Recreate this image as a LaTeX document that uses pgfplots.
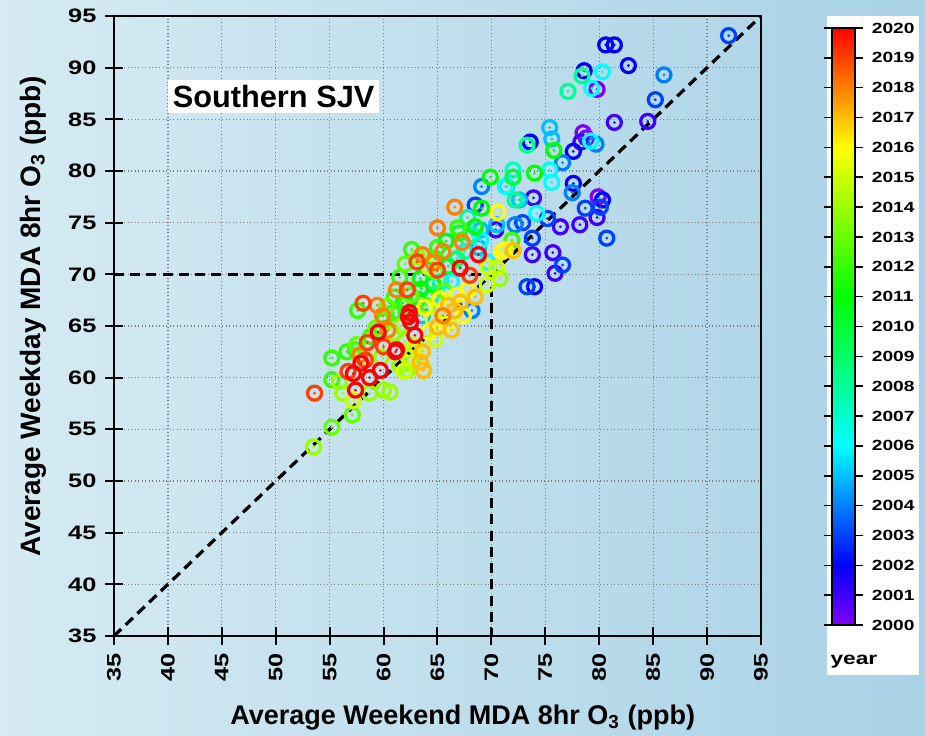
\documentclass[border=0pt]{standalone}
\usepackage{fontspec}
\setmainfont{Liberation Sans}
\newfontfamily\tickfont{Liberation Sans}[FakeStretch=1.3]
\usepackage{pgfplots}
\usepackage{pgfplotstable}
\pgfplotsset{compat=1.18}

% ring with a small dot in the middle
\pgfdeclareplotmark{ringdot}{%
  \pgfpathcircle{\pgfpointorigin}{\pgfplotmarksize}%
  \pgfusepathqstroke
  \pgfpathcircle{\pgfpointorigin}{0.6pt}%
  \pgfusepathqfill
}

\pgfplotstableread{
x y year
79.8 87.9 2000
78.5 83.7 2000
78.8 83.2 2000
79.9 77.5 2000
81.4 84.7 2001
84.5 84.8 2001
78.3 82.8 2001
73.9 77.4 2001
76.4 74.6 2001
78.2 74.8 2001
79.8 75.5 2001
75.7 72.1 2001
73.8 71.9 2001
75.9 70.1 2001
70.4 74.3 2001
80.6 92.2 2002
81.4 92.2 2002
82.7 90.2 2002
78.6 89.7 2002
73.6 82.8 2002
77.6 81.9 2002
80.3 77.2 2002
77.6 78.8 2002
74.0 68.8 2002
92.0 93.1 2003
85.2 86.9 2003
75.2 75.4 2003
72.9 75.0 2003
80.1 76.5 2003
78.7 76.4 2003
80.7 73.5 2003
76.6 70.9 2003
73.3 68.8 2003
73.8 73.5 2003
68.5 76.7 2003
86.0 89.3 2004
79.7 82.6 2004
76.6 80.8 2004
72.2 74.8 2004
77.5 77.9 2004
69.1 78.5 2004
68.2 66.5 2004
62.8 66.6 2004
75.4 84.2 2005
75.6 83.1 2005
71.4 78.5 2005
72.6 77.2 2005
69.0 74.3 2005
68.8 72.6 2005
70.5 74.8 2005
63.6 66.0 2005
80.3 89.6 2006
79.3 88.0 2006
79.2 82.9 2006
75.4 80.1 2006
75.6 78.9 2006
74.2 75.9 2006
71.3 78.5 2006
69.0 73.3 2006
69.6 71.2 2006
66.3 69.3 2006
72.0 80.1 2007
65.3 69.3 2007
67.5 72.2 2007
78.4 89.2 2008
77.1 87.7 2008
73.3 82.5 2008
72.2 77.2 2008
67.8 75.5 2008
64.5 68.0 2008
68.2 73.8 2008
66.8 71.5 2009
62.8 66.7 2009
72.0 79.4 2010
63.2 67.6 2010
67.0 74.0 2010
66.0 70.8 2010
75.8 82.0 2011
74.0 79.8 2011
69.9 79.4 2011
69.1 76.4 2011
68.5 74.6 2011
63.4 69.6 2011
64.6 69.0 2011
63.5 68.6 2011
61.8 67.2 2011
65.8 73.2 2011
64.8 71.5 2011
66.9 74.5 2012
71.9 73.3 2012
62.6 72.4 2012
65.0 72.6 2012
61.5 69.7 2012
57.6 66.5 2012
60.9 66.3 2012
57.4 62.7 2012
55.2 61.9 2012
56.6 62.5 2012
55.2 59.8 2012
61.0 67.8 2012
61.4 66.3 2012
60.0 65.5 2012
58.8 64.0 2012
57.5 63.2 2013
57.1 56.4 2013
55.2 55.2 2013
62.5 68.0 2013
60.3 66.9 2013
64.0 67.0 2013
59.3 64.8 2013
64.8 70.3 2013
65.6 68.4 2013
62.0 71.0 2013
55.9 59.6 2014
56.2 58.5 2014
58.7 58.5 2014
60.0 58.8 2014
60.6 58.6 2014
53.5 53.3 2014
62.2 60.7 2014
62.6 61.4 2014
61.6 65.0 2014
60.9 64.3 2014
62.0 63.5 2014
61.5 61.2 2014
59.8 62.0 2014
58.3 61.8 2014
63.2 71.7 2014
70.8 69.6 2014
69.7 70.7 2015
69.6 69.0 2015
70.5 70.6 2015
62.5 62.7 2015
57.2 57.8 2015
61.9 60.6 2015
64.6 65.6 2015
64.8 63.7 2015
63.0 63.0 2015
62.3 62.0 2015
64.2 70.7 2015
70.6 76.0 2016
71.0 72.2 2016
67.8 68.5 2016
71.3 72.4 2016
65.8 65.2 2016
67.4 66.0 2016
63.8 66.8 2016
66.8 68.0 2016
65.2 67.6 2016
64.2 64.4 2016
72.0 72.3 2017
68.5 67.8 2017
63.6 62.5 2017
63.4 61.5 2017
63.7 60.7 2017
65.0 64.9 2017
66.0 67.0 2017
66.6 66.5 2017
67.1 67.3 2017
66.3 64.6 2017
66.6 76.5 2018
67.3 73.1 2018
65.0 74.5 2018
63.6 71.9 2018
65.5 72.2 2018
64.6 71.1 2018
61.2 68.5 2018
59.4 67.0 2018
59.9 66.0 2018
60.4 64.6 2018
57.8 62.2 2018
65.5 66.0 2018
68.0 69.9 2019
63.1 71.2 2019
65.0 70.4 2019
62.2 68.5 2019
58.1 67.2 2019
58.5 63.4 2019
60.0 63.0 2019
53.6 58.5 2019
56.7 60.6 2019
58.3 61.7 2019
68.8 71.9 2020
67.1 70.6 2020
62.4 66.3 2020
62.3 65.9 2020
62.5 65.4 2020
62.9 64.1 2020
59.5 64.4 2020
61.2 62.7 2020
57.4 58.8 2020
57.2 60.4 2020
58.7 60.0 2020
59.7 60.7 2020
57.9 61.4 2020
61.1 62.5 2020
}\ozone

\begin{document}
\begin{tikzpicture}
% page background and colour bar panel
\shade[left color={rgb,255:red,214;green,235;blue,243}, right color={rgb,255:red,168;green,210;blue,230}]
  (-45.6pt,-40pt) rectangle (324.4pt,254.4pt);
\fill[white] (285.2pt,248pt) rectangle (322pt,-15.6pt);

\begin{axis}[
    scale only axis,
    width=258.8pt,
    height=248pt,
    xmin=35, xmax=95,
    ymin=35, ymax=95,
    xtick={35,40,...,95},
    ytick={35,40,...,95},
    tick pos=left,
    grid=major,
    grid style={densely dotted, gray, line width=0.5pt},
    axis line style={line width=0.9pt},
    tick style={black, line width=0.8pt},
    major tick length=7pt,
    tick align=center,
    /pgf/number format/assume math mode=true,
    ticklabel style={font=\tickfont\bfseries\fontsize{7.8}{9}\selectfont},
    xticklabel style={rotate=90, anchor=east},
    xlabel={Average Weekend MDA 8hr O\textsubscript{3} (ppb)},
    ylabel={Average Weekday MDA 8hr O\textsubscript{3} (ppb)},
    xlabel style={font=\bfseries\fontsize{10.8}{12}\selectfont, at={(axis description cs:0.539,-0.132)}, anchor=center},
    ylabel style={font=\bfseries\fontsize{11.2}{12}\selectfont, at={(axis description cs:-0.125,0.516)}, anchor=center},
    colormap={yearmap}{rgb255(0cm)=(128,0,255); rgb255(2cm)=(0,0,255); rgb255(6cm)=(0,255,255); rgb255(11cm)=(0,255,0); rgb255(16cm)=(255,255,0); rgb255(20cm)=(255,0,0)},
    point meta min=2000,
    point meta max=2020,
    colorbar,
    colorbar style={
        at={(parent axis.north east)}, anchor=north west,
        xshift=19.9pt, yshift=-4.8pt,
        scale only axis,
        width=9.2pt, height=238.8pt,
        ytick={2000,2001,...,2020},
        /pgf/number format/assume math mode=true,
        yticklabel style={font=\tickfont\bfseries\fontsize{5.9}{7}\selectfont, /pgf/number format/1000 sep={}},
        tick align=outside,
        major tick length=3.2pt,
        tick style={black, line width=0.6pt},
        axis line style={line width=0.7pt},
    },
]
\addplot[black, line width=1.3pt, dash pattern=on 4pt off 2.5pt] coordinates {(35,70) (70,70) (70,35)};
\addplot[scatter, only marks, mark=ringdot, mark size=2.8pt,
    mark options={line width=1.3pt},
    point meta=explicit,
    scatter/use mapped color={draw=mapped color, fill=mapped color}]
    table[x=x, y=y, meta=year] {\ozone};
\addplot[black, line width=1.3pt, dash pattern=on 4pt off 2.5pt] coordinates {(35,35) (95,95)};
\node[fill=white, inner sep=2pt, font=\bfseries\fontsize{12.3}{14}\selectfont] at (axis cs:49.8,87.2) {Southern SJV};
\end{axis}
\node[anchor=west, inner sep=0pt, font=\tickfont\bfseries\fontsize{7}{8}\selectfont] at (286.4pt,-10.4pt) {year};
\pgfresetboundingbox
\path[use as bounding box] (-45.6pt,-40pt) rectangle (324.4pt,254.4pt);
\end{tikzpicture}
\end{document}
